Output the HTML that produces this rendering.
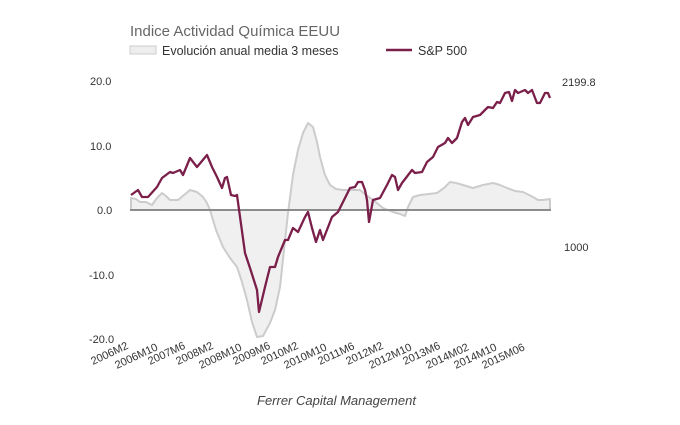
<!DOCTYPE html><html><head><style>body{margin:0;background:#fff}svg{font-family:"Liberation Sans",sans-serif}</style></head><body>
<svg width="680" height="420" xmlns="http://www.w3.org/2000/svg">
<text x="130" y="36" font-size="15" fill="#666">Indice Actividad Química EEUU</text>
<rect x="130" y="46" width="26" height="8" fill="#eee" stroke="#ccc"/>
<text x="162" y="55" font-size="12.5" fill="#333">Evolución anual media 3 meses</text>
<line x1="386" y1="50" x2="412" y2="50" stroke="#7a1f4a" stroke-width="2.5"/>
<text x="418" y="55" font-size="12.5" fill="#333">S&amp;P 500</text>
<g font-size="11" fill="#333">
<text x="90" y="85">20.0</text><text x="90" y="150">10.0</text><text x="97" y="214">0.0</text><text x="89" y="279">-10.0</text><text x="89" y="343">-20.0</text>
<text x="562" y="86">2199.8</text><text x="564" y="251">1000</text>
</g>
<polygon fill="#f0f0f0" stroke="#ccc" stroke-width="2" stroke-linejoin="round" points="131,198 136,199 140,202 146,202 152,205 157,198 162,193 166,196 170,200 178,200 184,195 190,190 197,192 203,197 207,203 210,210 216,230 223,247 230,258 237,267 242,282 247,300 252,322 257,337 263,336 270,323 275,310 280,287 284,250 288,213 293,175 298,150 303,133 308,123 313,127 317,142 320,157 325,175 330,185 336,189 343,190 360,190 366,195 373,200 383,208 393,212 400,214 405,216 408,207 413,197 420,195 437,193 444,188 450,182 456,183 463,185 473,188 483,185 493,183 500,185 507,188 515,191 523,192 533,197 538,200 543,200 550,199 550,210 131,210" />
<line x1="130" y1="210" x2="551" y2="210" stroke="#777" stroke-width="1.5"/>
<polyline fill="none" stroke="#7a1f4a" stroke-width="2.3" stroke-linejoin="round" points="131,195 138,190 142,197 148,197 157,187 162,178 170,172 173,173 180,170 183,175 190,158 197,167 207,155 212,167 217,177 222,188 225,178 227,177 231,195 235,196 237,195 245,253 250,268 257,290 259,312 265,287 270,267 275,267 278,257 285,240 288,240 293,228 298,232 305,217 308,212 312,228 316,242 320,230 323,240 332,217 338,212 345,198 350,188 355,187 358,182 362,182 365,190 367,200 369,222 373,200 380,198 387,185 392,175 395,177 398,190 402,183 412,170 415,173 422,172 427,162 433,157 438,147 445,143 448,138 452,143 457,138 462,122 465,118 468,125 473,117 480,115 488,107 493,108 497,102 500,103 505,93 509,92 512,101 515,90 518,93 525,90 528,93 532,90 537,103 540,103 545,93 548,93 550,98"/>
<g font-size="11" fill="#333">
<text transform="translate(93,365) rotate(-25)">2006M2</text>
<text transform="translate(117,369) rotate(-25)">2006M10</text>
<text transform="translate(150,365) rotate(-25)">2007M6</text>
<text transform="translate(178,365) rotate(-25)">2008M2</text>
<text transform="translate(201,369) rotate(-25)">2008M10</text>
<text transform="translate(235,365) rotate(-25)">2009M6</text>
<text transform="translate(263,365) rotate(-25)">2010M2</text>
<text transform="translate(286,369) rotate(-25)">2010M10</text>
<text transform="translate(320,365) rotate(-25)">2011M6</text>
<text transform="translate(348,365) rotate(-25)">2012M2</text>
<text transform="translate(371,369) rotate(-25)">2012M10</text>
<text transform="translate(405,365) rotate(-25)">2013M6</text>
<text transform="translate(428,369) rotate(-25)">2014M02</text>
<text transform="translate(456,369) rotate(-25)">2014M10</text>
<text transform="translate(484,369) rotate(-25)">2015M06</text>
</g>
<text x="257" y="405" font-size="13" font-style="italic" fill="#444">Ferrer Capital Management</text>
</svg>
</body></html>
